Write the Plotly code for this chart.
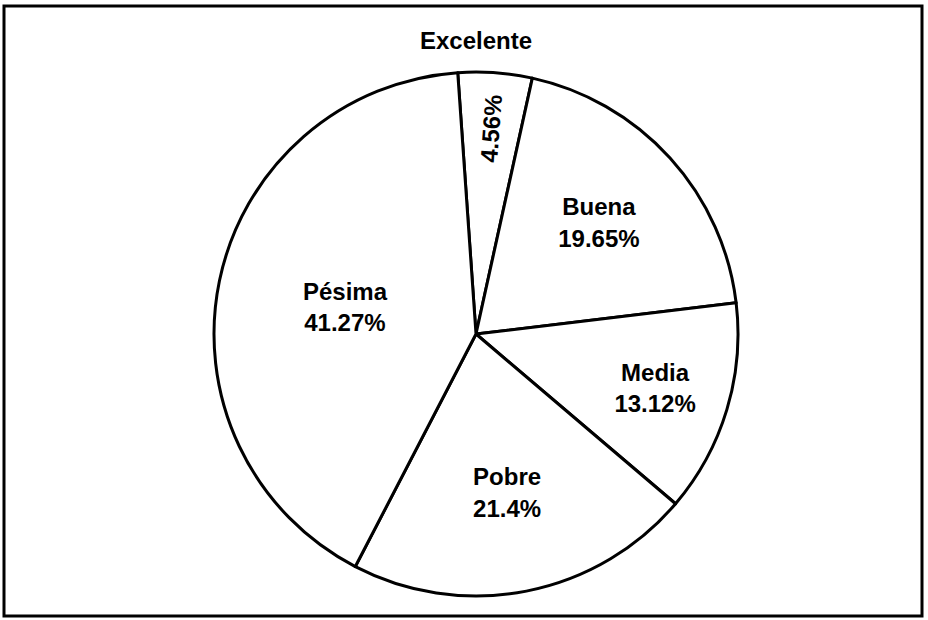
import plotly.graph_objects as go

labels = ["Excelente", "Buena", "Media", "Pobre", "Pésima"]
values = [4.56, 19.65, 13.12, 21.4, 41.27]
pct_text = ["4.56%", "19.65%", "13.12%", "21.4%", "41.27%"]

W, H = 928, 620
cx, cy, r = 476, 334, 262

font = dict(family="Liberation Sans, Arial, Helvetica, sans-serif", size=24, color="black", weight="bold")
dom = dict(x=[(cx - r) / W, (cx + r) / W], y=[(H - cy - r) / H, (H - cy + r) / H])

# main pie: labels + percentages, horizontal
main_text = ["" if l == "Excelente" else f"{l}<br>{p}" for l, p in zip(labels, pct_text)]
fig = go.Figure()
fig.add_trace(go.Pie(
    labels=labels, values=values, sort=False, direction="clockwise", rotation=-4,
    text=main_text, textinfo="text", textposition="inside",
    insidetextorientation="horizontal",
    marker=dict(colors=["white"] * 5, line=dict(color="black", width=3)),
    textfont=font, showlegend=False, hoverinfo="label+percent", domain=dom,
))
# overlay: small slice percentage rotated radially
small_text = [p if l == "Excelente" else "" for l, p in zip(labels, pct_text)]
fig.add_trace(go.Pie(
    labels=labels, values=values, sort=False, direction="clockwise", rotation=-4,
    text=small_text, textinfo="text", textposition="inside",
    insidetextorientation="radial",
    marker=dict(colors=["rgba(0,0,0,0)"] * 5, line=dict(width=0)),
    textfont=font, showlegend=False, hoverinfo="skip", domain=dom,
))

fig.add_annotation(text=labels[0], xref="paper", yref="paper", x=cx / W, y=(H - 40) / H,
                   showarrow=False, font=font, xanchor="center", yanchor="middle")
fig.add_shape(type="rect", xref="paper", yref="paper",
              x0=4 / W, x1=922 / W, y0=(H - 616) / H, y1=(H - 6) / H,
              line=dict(color="black", width=3))
fig.update_layout(width=W, height=H, margin=dict(l=0, r=0, t=0, b=0),
                  paper_bgcolor="white", plot_bgcolor="white",
                  uniformtext=dict(minsize=24, mode="show"))
fig.write_html("out.html", config={"displayModeBar": False},
               post_script="document.body.style.margin='0';")
